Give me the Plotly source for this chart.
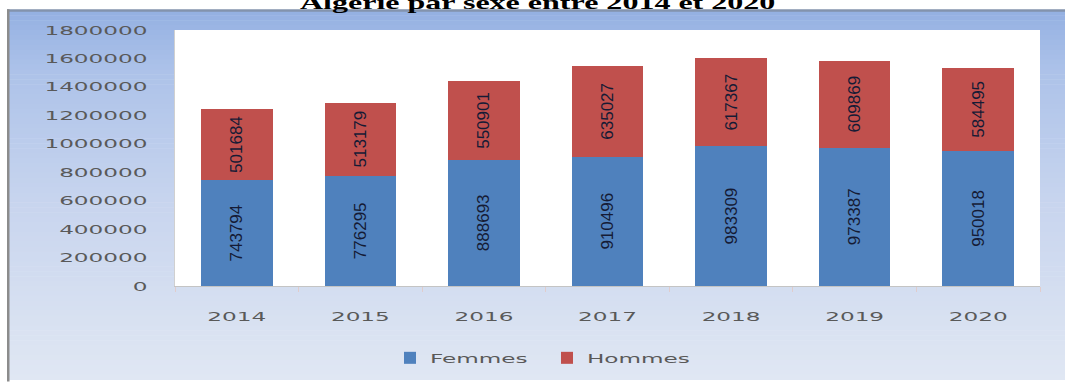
import plotly.graph_objects as go

# Population data by sex, 2014-2020
years = ["2014", "2015", "2016", "2017", "2018", "2019", "2020"]
femmes = [743794, 776295, 888693, 910496, 983309, 973387, 950018]
hommes = [501684, 513179, 550901, 635027, 617367, 609869, 584495]
y_tick_values = [0, 200000, 400000, 600000, 800000, 1000000,
                 1200000, 1400000, 1600000, 1800000]
y_tick_labels = [str(v) for v in y_tick_values]
title_text = "Algérie par sexe entre 2014 et 2020"

W, H = 1065, 385
L, R, T, B = 175, 25, 30, 95
PW, PH = W - L - R, H - T - B

BLUE = "#4f81bd"
RED = "#c0504d"
LABEL_GREY = "#595959"
TICK_FONT = "DejaVu Sans, Verdana, sans-serif"
BAR_FONT = "Liberation Sans, Arial, sans-serif"


def fx(px):
    """pixel x -> paper x"""
    return (px - L) / PW


def fy(py):
    """pixel y (from top) -> paper y"""
    return (H - B - py) / PH


def mix(c1, c2, t):
    return tuple(round(a + (b - a) * t) for a, b in zip(c1, c2))


# vertical colour stops of the frame background (pixel y, rgb)
stops = [(10, (148, 176, 226)), (70, (172, 194, 233)),
         (200, (199, 212, 238)), (385, (224, 231, 243))]


def frame_color(py):
    for (y0, c0), (y1, c1) in zip(stops, stops[1:]):
        if y0 <= py <= y1:
            return mix(c0, c1, (py - y0) / (y1 - y0))
    return stops[-1][1]


shapes = []
band = 5
y = 10
while y < H:
    c = frame_color(y + band / 2)
    shapes.append(dict(type="rect", xref="paper", yref="paper", layer="below",
                       x0=fx(8), x1=fx(W + 2), y0=fy(y), y1=fy(min(y + band, H) + 0.5),
                       line=dict(width=0), fillcolor="rgb(%d,%d,%d)" % c))
    y += band

# frame edges
shapes.append(dict(type="rect", xref="paper", yref="paper", layer="below",
                   x0=fx(7), x1=fx(W + 2), y0=fy(9), y1=fy(11.5),
                   line=dict(width=0), fillcolor="#8393ad"))
shapes.append(dict(type="rect", xref="paper", yref="paper", layer="below",
                   x0=fx(7), x1=fx(9.5), y0=fy(9), y1=fy(H + 2),
                   line=dict(width=0), fillcolor="#8c8c8c"))
# white plotting area
shapes.append(dict(type="rect", xref="paper", yref="paper", layer="below",
                   x0=0, x1=1, y0=0, y1=1,
                   line=dict(width=0), fillcolor="white"))

bar_text_font = dict(family=BAR_FONT, size=17, color="#151b35")

fig = go.Figure()
fig.add_trace(go.Bar(
    x=years, y=femmes, name="Femmes", marker=dict(color=BLUE, line=dict(width=0)),
    text=[str(v) for v in femmes], textposition="inside", textangle=-90,
    insidetextanchor="middle", constraintext="none", textfont=bar_text_font,
))
fig.add_trace(go.Bar(
    x=years, y=hommes, name="Hommes", marker=dict(color=RED, line=dict(width=0)),
    text=[str(v) for v in hommes], textposition="inside", textangle=-90,
    insidetextanchor="middle", constraintext="none", textfont=bar_text_font,
))

fig.update_layout(
    width=W, height=H,
    margin=dict(l=L, r=R, t=T, b=B, pad=0),
    barmode="stack", bargap=0.42,
    paper_bgcolor="white", plot_bgcolor="rgba(0,0,0,0)",
    shapes=shapes,
    showlegend=True,
    legend=dict(orientation="h", x=fx(390), xanchor="left", y=fy(363), yanchor="middle",
                font=dict(family=TICK_FONT, size=13, color=LABEL_GREY),
                bgcolor="rgba(0,0,0,0)", entrywidth=112, entrywidthmode="pixels",
                traceorder="normal", itemclick=False),
    annotations=[dict(text="<b>" + title_text + "</b>", xref="paper", yref="paper",
                      x=fx(537), y=fy(15), xanchor="center", yanchor="bottom",
                      showarrow=False,
                      font=dict(family="Liberation Serif, Times New Roman, serif",
                                size=18, color="black"))],
    xaxis=dict(type="category", showgrid=False, zeroline=False,
               showline=True, linecolor="#c4c4c4", linewidth=1,
               ticks="outside", tickson="boundaries", ticklen=5, tickcolor="#e0cccc",
               ticklabelstandoff=18,
               tickfont=dict(family=TICK_FONT, size=13, color=LABEL_GREY)),
    yaxis=dict(range=[0, 1800000], tickvals=y_tick_values, ticktext=y_tick_labels,
               showgrid=False, zeroline=False, showline=True, linecolor="#d0d0d0",
               ticks="", ticklabelstandoff=24,
               tickfont=dict(family=TICK_FONT, size=13, color=LABEL_GREY)),
)

# widen the axis, legend and title lettering horizontally around each anchor point
stretch_js = """
(function(){
  var gd = document.getElementById('{plot_id}');
  function stretch(){
    gd.querySelectorAll('.xtick text, .ytick text, .legendtext, .annotation-text').forEach(function(t){
      var tr = t.getAttribute('transform') || '';
      if (tr.indexOf('scale(') !== -1) return;
      var x = parseFloat(t.getAttribute('x')) || 0;
      t.setAttribute('transform', (tr + ' translate(' + x + ',0) scale(1.78,1) translate(' + (-x) + ',0)').trim());
    });
  }
  stretch();
  if (gd.on) gd.on('plotly_afterplot', stretch);
})();
"""

fig.write_html("out.html", post_script=stretch_js,
               config=dict(displayModeBar=False, staticPlot=True))
